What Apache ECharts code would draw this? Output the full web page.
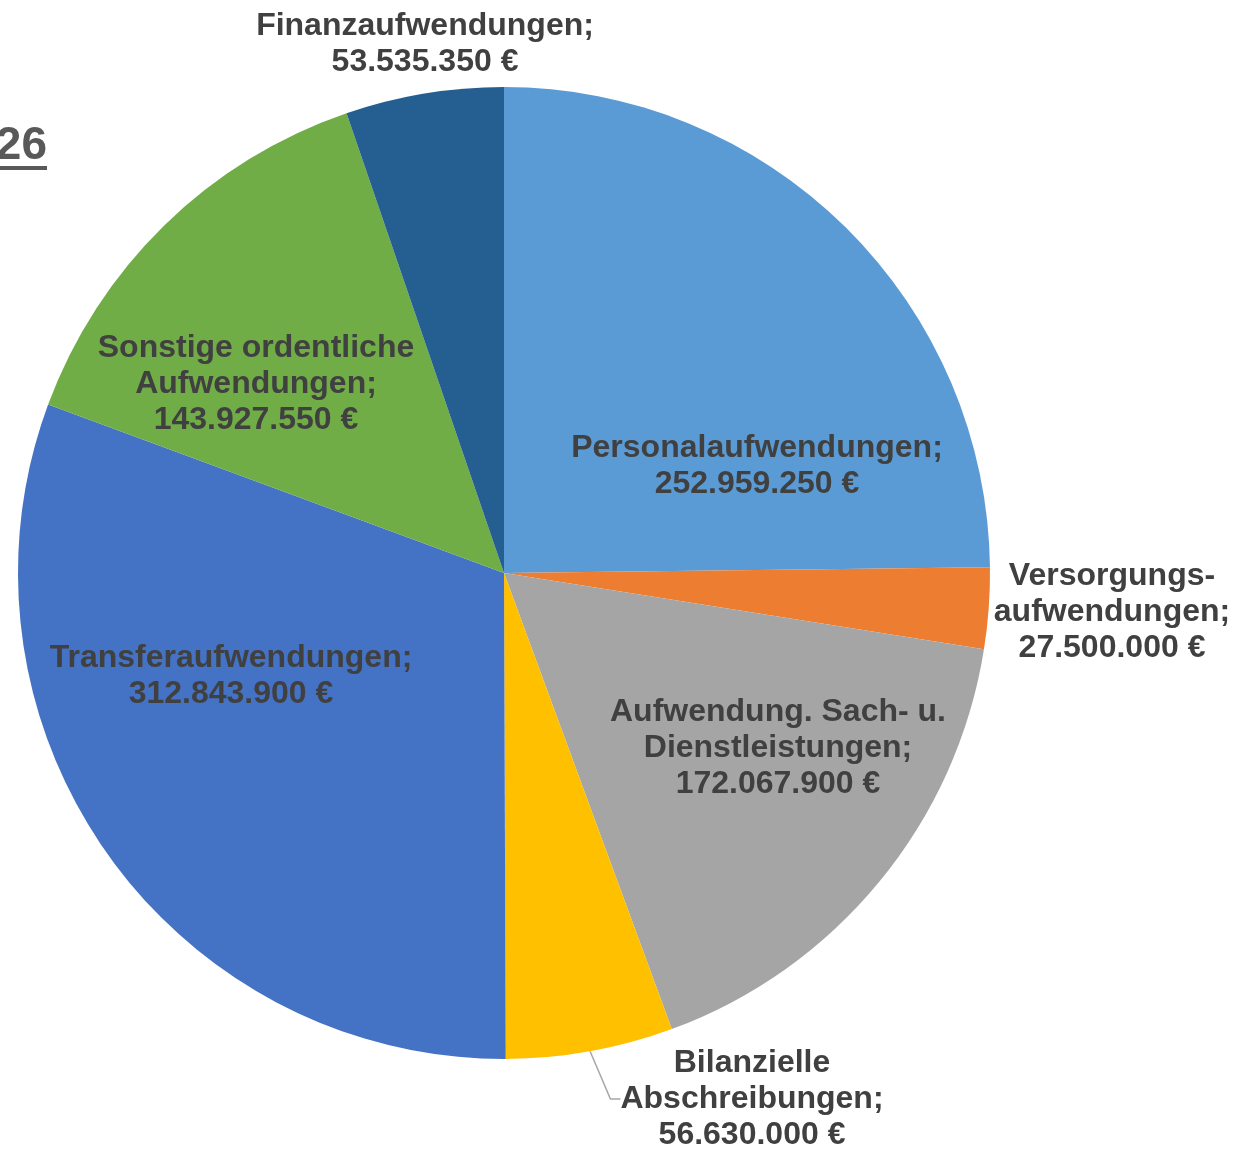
<!DOCTYPE html>
<html>
<head>
<meta charset="utf-8">
<script src="https://cdn.jsdelivr.net/npm/echarts@6/dist/echarts.min.js"></script>
<style>html,body{margin:0;padding:0;background:#fff;}#c{width:1239px;height:1151px;}</style>
</head>
<body>
<div id="c"></div>
<script>
const categories = [
  'Personalaufwendungen',
  'Versorgungsaufwendungen',
  'Aufwendung. Sach- u. Dienstleistungen',
  'Bilanzielle Abschreibungen',
  'Transferaufwendungen',
  'Sonstige ordentliche Aufwendungen',
  'Finanzaufwendungen'
];
const labelNames = [
  'Personalaufwendungen;',
  'Versorgungs-\naufwendungen;',
  'Aufwendung. Sach- u.\nDienstleistungen;',
  'Bilanzielle\nAbschreibungen;',
  'Transferaufwendungen;',
  'Sonstige ordentliche\nAufwendungen;',
  'Finanzaufwendungen;'
];
const values = [252959250, 27500000, 172067900, 56630000, 312843900, 143927550, 53535350];
const colors = ['#5B9BD5', '#ED7D31', '#A5A5A5', '#FFC000', '#4472C4', '#70AD47', '#255E91'];
const titleText = '26';

// label block centres (layout, not data)
const labelPos = [[757, 466], [1112, 612], [778, 748], [752, 1099], [231, 676], [256, 384], [425, 44]];
const showLine = [false, false, false, true, false, false, false];

function fmt(v) {
  return String(v).replace(/\B(?=(\d{3})+(?!\d))/g, '.') + ' €';
}

const chart = echarts.init(document.getElementById('c'), null, {renderer: 'canvas'});
chart.setOption({
  animation: false,
  backgroundColor: '#ffffff',
  graphic: [
    {type: 'text', x: 47, y: 146, style: {text: titleText, fontSize: 46, fontWeight: 'bold', fontFamily: '"Liberation Sans", Arial, sans-serif', fill: '#595959', align: 'right', verticalAlign: 'middle'}},
    {type: 'rect', shape: {x: 0, y: 166, width: 47, height: 4}, style: {fill: '#595959'}}
  ],
  series: [{
    type: 'pie',
    center: [504, 573],
    radius: 486,
    startAngle: 90,
    clockwise: true,
    avoidLabelOverlap: false,
    itemStyle: {borderWidth: 0},
    label: {
      show: true,
      position: 'outside',
      color: '#404040',
      fontFamily: '"Liberation Sans", Arial, sans-serif',
      fontWeight: 'bold',
      fontSize: 32,
      lineHeight: 36,
      align: 'center',
      formatter: p => labelNames[p.dataIndex] + '\n' + fmt(p.value)
    },
    labelLine: {show: true, lineStyle: {color: '#A6A6A6', width: 1.5}, length: 10, length2: 10},
    labelLayout: p => ({
      x: labelPos[p.dataIndex][0],
      y: labelPos[p.dataIndex][1],
      align: 'center',
      verticalAlign: 'middle'
    }),
    data: categories.map((c, i) => ({
      name: c,
      value: values[i],
      itemStyle: {color: colors[i]},
      labelLine: {show: showLine[i]}
    }))
  }]
});
</script>
</body>
</html>
